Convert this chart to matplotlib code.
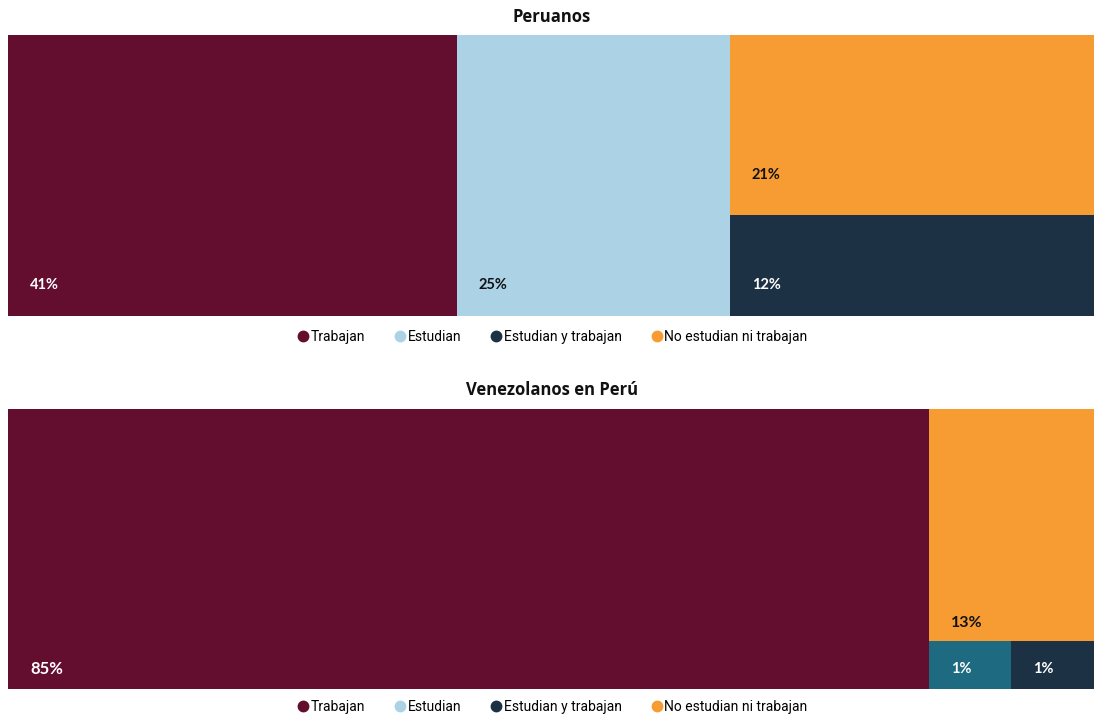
import matplotlib
matplotlib.use("Agg")
import matplotlib.pyplot as plt
from matplotlib.patches import Rectangle
from matplotlib.lines import Line2D

# ---------------- data ----------------
categories = ["Trabajan", "Estudian", "Estudian y trabajan", "No estudian ni trabajan"]
peru_values = [41.3, 25.1, 12.1, 21.4]
ven_values = [84.8, 1.3, 1.3, 12.6]
titles = ["Peruanos", "Venezolanos en Perú"]

# ---------------- style ----------------
colors = ["#630e2f", "#acd2e6", "#1c3244", "#f79c33"]
ven_cell_colors = ["#630e2f", "#1e6a80", "#1c3244", "#f79c33"]
peru_label_colors = ["white", "#111111", "white", "#111111"]
ven_label_colors = ["white", "white", "white", "#111111"]

# layout trees: ('h', children) splits left->right, ('v', children) top->bottom
peru_tree = ('h', [0, 1, ('v', [3, 2])])
ven_tree = ('h', [0, ('v', [3, ('h', [1, 2])])])

W, H = 1094, 717
fig = plt.figure(figsize=(W / 100, H / 100), dpi=100)
fig.patch.set_facecolor("white")


def node_value(node, vals):
    if isinstance(node, int):
        return vals[node]
    return sum(node_value(c, vals) for c in node[1])


def layout(node, vals, x, y, w, h, out):
    if isinstance(node, int):
        out[node] = (x, y, w, h)
        return
    d, children = node
    total = node_value(node, vals)
    if d == 'h':
        cx = x
        for c in children:
            cw = w * node_value(c, vals) / total
            layout(c, vals, cx, y, cw, h, out)
            cx += cw
    else:
        cy = y + h
        for c in children:
            ch = h * node_value(c, vals) / total
            cy -= ch
            layout(c, vals, x, cy, w, ch, out)


def draw(ax, vals, tree, cell_colors, lab_colors, label_dy, sizes):
    rects = {}
    layout(tree, vals, 0, 0, 100, 100, rects)
    for i, (x, y, w, h) in rects.items():
        ax.add_patch(Rectangle((x, y), w, h, facecolor=cell_colors[i], edgecolor="none"))
        dy = label_dy[i]
        ax.annotate(f"{round(vals[i])}%", xy=(x, y), xytext=(22 * 0.72, dy * 0.72),
                    textcoords="offset points", ha="left", va="center",
                    fontsize=sizes[i], fontweight="bold", color=lab_colors[i],
                    family="Lato")
    ax.set_xlim(0, 100)
    ax.set_ylim(0, 100)
    ax.axis("off")


ax1 = fig.add_axes([8 / W, (H - 316) / H, 1086 / W, 281 / H])
draw(ax1, peru_values, peru_tree, colors, peru_label_colors, [31, 31, 31, 40], [10.5] * 4)
ax2 = fig.add_axes([8 / W, (H - 689) / H, 1086 / W, 280 / H])
draw(ax2, ven_values, ven_tree, ven_cell_colors, ven_label_colors, [20, 20, 20, 18],
     [12, 10.5, 10.5, 11.5])

fig.text(552 / W, 1 - 17 / H, titles[0], ha="center", va="center",
         fontsize=12, fontweight="bold", family="Open Sans", color="#111111")
fig.text(552 / W, 1 - 390 / H, titles[1], ha="center", va="center",
         fontsize=12, fontweight="bold", family="Open Sans", color="#111111")

handles = [Line2D([0], [0], marker="o", linestyle="none", markersize=7.5,
                  markerfacecolor=c, markeredgecolor=c) for c in colors]
for ypix in (337, 707):
    fig.legend(handles, categories, loc="center", bbox_to_anchor=(552 / W, 1 - ypix / H),
               ncol=4, frameon=False, handletextpad=0.05, columnspacing=2.0,
               handlelength=1.0, prop={"family": "Roboto", "size": 10})

fig.savefig("out.png", dpi=100, facecolor="white")
